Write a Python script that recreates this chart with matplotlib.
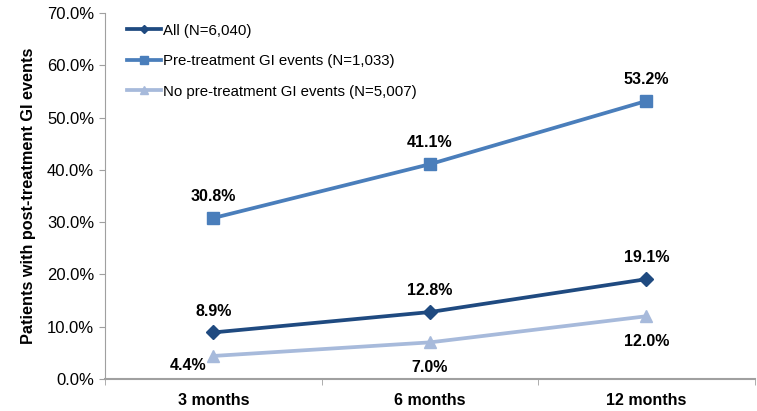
import matplotlib
matplotlib.use("Agg")
import matplotlib.pyplot as plt
from matplotlib.ticker import FuncFormatter, FixedLocator

plt.rcParams['font.family'] = ['Liberation Sans', 'DejaVu Sans']

categories = ["3 months", "6 months", "12 months"]
all_pts = [8.9, 12.8, 19.1]
pre_gi = [30.8, 41.1, 53.2]
no_pre_gi = [4.4, 7.0, 12.0]

c_all = "#1F4A80"
c_pre = "#4A7EBB"
c_no = "#A7BADB"
gray = "#A0A0A0"

fig = plt.figure(figsize=(7.57, 4.11), dpi=100)
ax = fig.add_axes([0.139, 0.078, 0.858, 0.89])

x = list(range(len(categories)))
ax.plot(x, all_pts, color=c_all, lw=2.7, marker="D", ms=7, label="All (N=6,040)")
ax.plot(x, pre_gi, color=c_pre, lw=2.7, marker="s", ms=8.5, label="Pre-treatment GI events (N=1,033)")
ax.plot(x, no_pre_gi, color=c_no, lw=2.7, marker="^", ms=9, label="No pre-treatment GI events (N=5,007)")

lab_kw = dict(ha="center", fontsize=11.5, fontweight="bold")
for i, v in enumerate(pre_gi):
    ax.annotate(f"{v:.1f}%", (i, v), xytext=(0, 10), textcoords="offset points", va="bottom", **lab_kw)
for i, v in enumerate(all_pts):
    ax.annotate(f"{v:.1f}%", (i, v), xytext=(0, 10), textcoords="offset points", va="bottom", **lab_kw)
offs = [(-18, -1.5), (0, -13), (0, -12.5)]
for i, v in enumerate(no_pre_gi):
    ax.annotate(f"{v:.1f}%", (i, v), xytext=offs[i], textcoords="offset points", va="top", **lab_kw)

ax.set_xlim(-0.5, 2.5)
ax.set_ylim(0, 70)
ax.set_yticks(range(0, 71, 10))
ax.yaxis.set_major_formatter(FuncFormatter(lambda v, p: f"{v:.1f}%"))
ax.set_xticks(x)
ax.set_xticklabels(categories, fontsize=11.5, fontweight="bold")
ax.tick_params(axis="x", length=0, pad=10)
ax.xaxis.set_minor_locator(FixedLocator([-0.5, 0.5, 1.5, 2.5]))
ax.tick_params(axis="x", which="minor", length=4, color=gray, direction="out")
ax.tick_params(axis="y", labelsize=12, length=4, color=gray, pad=4)
ax.set_ylabel("Patients with post-treatment GI events", fontsize=11.7, fontweight="bold", labelpad=8)

for s in ["top", "right"]:
    ax.spines[s].set_visible(False)
ax.spines["left"].set_color(gray)
ax.spines["bottom"].set_color(gray)
ax.spines["bottom"].set_linewidth(1.5)

ax.legend(loc="upper left", bbox_to_anchor=(0.012, 1.008), frameon=False, fontsize=10.8,
          handlelength=2.3, handletextpad=0.1, labelspacing=1.1, markerscale=0.6)

fig.savefig("out.png", dpi=100)
